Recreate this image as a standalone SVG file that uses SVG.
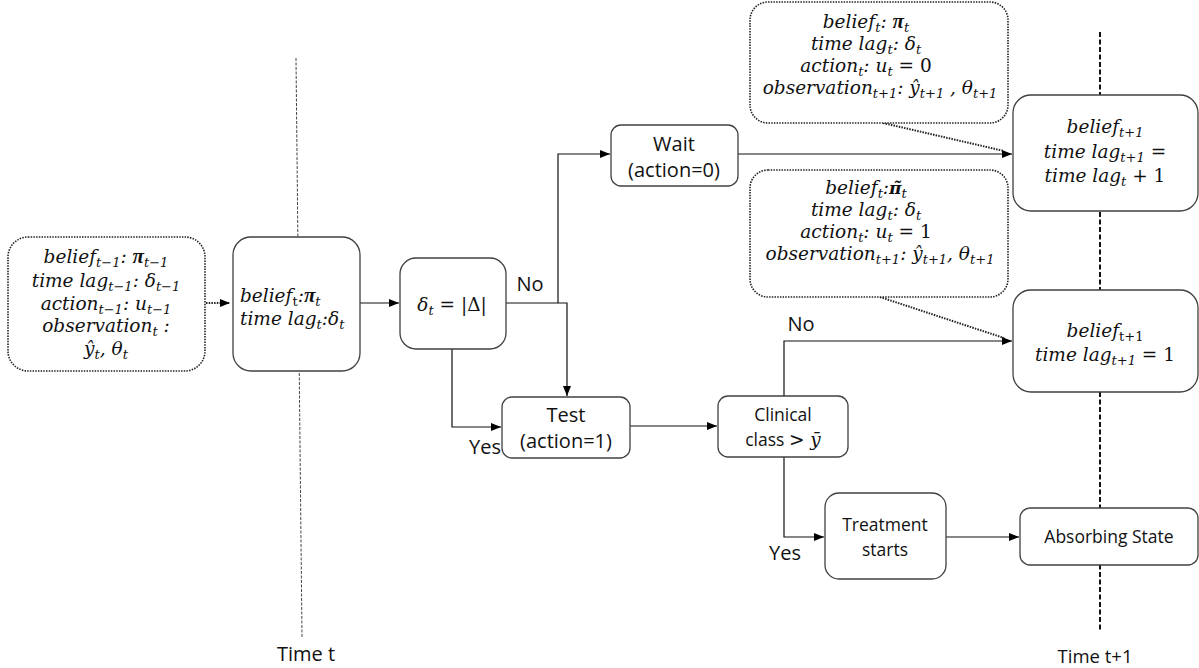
<svg xmlns="http://www.w3.org/2000/svg" width="1199" height="668" viewBox="0 0 1199 668">
  <defs>
    <marker id="arrow" markerUnits="userSpaceOnUse" markerWidth="11" markerHeight="9" refX="10" refY="4" orient="auto">
      <path d="M0,0 L10,4 L0,8 z" fill="#000"/>
    </marker>
    <style>
      .box { fill: #fff; stroke: #404040; stroke-width: 1.3; }
      .dbox { fill: #fff; stroke: #222; stroke-width: 1.6; stroke-dasharray: 1.5 1.2; }
      .conn { fill: none; stroke: #111; stroke-width: 1.2; }
      .dconn { fill: none; stroke: #222; stroke-width: 2; stroke-dasharray: 1.5 1.2; }
      .m { font-family: "DejaVu Serif", "Liberation Serif", serif; font-style: italic; font-size: 18.5px; fill: #111; }
      .s { font-size: 13px; }
      .b { font-family: "Liberation Serif", serif; font-weight: bold; font-size: 21px; }
      .bt { font-family: "DejaVu Serif", serif; font-weight: bold; font-size: 17px; }
      .u { font-style: normal; }
      .lbl { font-family: "Open Sans", "Liberation Sans", sans-serif; font-size: 20px; fill: #111; }
      .sm { font-size: 17.5px; }
      .time1 { fill: none; stroke: #444; stroke-width: 1; stroke-dasharray: 3 1.5; }
      .time2 { fill: none; stroke: #111; stroke-width: 2; stroke-dasharray: 5 2.5; }
    </style>
  </defs>

  <!-- time markers -->
  <g id="timelines">
    <path class="time1" d="M296,58 L302,637"/>
    <path class="time2" d="M1100,32 V632"/>
    <text class="lbl" x="306" y="661" text-anchor="middle">Time t</text>
    <text class="lbl" x="1095" y="663" text-anchor="middle" style="font-size:18.5px">Time t+1</text>
  </g>

  <!-- connectors -->
  <g id="connectors">
    <path class="dconn" d="M206,303 H230" marker-end="url(#arrow)"/>
    <path class="conn" d="M360,303 H399" marker-end="url(#arrow)"/>
    <path class="conn" d="M506,303 H567 V396" marker-end="url(#arrow)"/>
    <path class="conn" d="M558,303 V154 H610" marker-end="url(#arrow)"/>
    <path class="conn" d="M452,349 V427 H501" marker-end="url(#arrow)"/>
    <path class="conn" d="M738,154 H1012" marker-end="url(#arrow)"/>
    <path class="conn" d="M630,426 H717" marker-end="url(#arrow)"/>
    <path class="conn" d="M784,396 V341 H1012" marker-end="url(#arrow)"/>
    <path class="conn" d="M784,457 V537 H824" marker-end="url(#arrow)"/>
    <path class="conn" d="M946,537 H1019" marker-end="url(#arrow)"/>
    <path class="dconn" d="M883,123 L1004,151"/>
    <path class="dconn" d="M880,297 L1004,338"/>
    <text class="lbl" x="530" y="291" text-anchor="middle">No</text>
    <text class="lbl" x="485" y="454" text-anchor="middle">Yes</text>
    <text class="lbl" x="801" y="331" text-anchor="middle">No</text>
    <text class="lbl" x="785" y="560" text-anchor="middle">Yes</text>
  </g>

  <!-- previous step -->
  <g id="prev-state">
    <rect class="dbox" x="8" y="237" width="197" height="134" rx="20"/>
    <text class="m" x="106" y="263" text-anchor="middle">belief<tspan class="s" dy="4">t−1</tspan><tspan dy="-4">: </tspan><tspan class="b">π</tspan><tspan class="s" dy="4">t−1</tspan></text>
    <text class="m" x="106" y="287" text-anchor="middle">time lag<tspan class="s" dy="4">t−1</tspan><tspan dy="-4">: δ</tspan><tspan class="s" dy="4">t−1</tspan></text>
    <text class="m" x="106" y="310" text-anchor="middle">action<tspan class="s" dy="4">t−1</tspan><tspan dy="-4">:  u</tspan><tspan class="s" dy="4">t−1</tspan></text>
    <text class="m" x="106" y="332" text-anchor="middle">observation<tspan class="s" dy="4">t</tspan><tspan dy="-4"> :</tspan></text>
    <text class="m" x="106" y="355" text-anchor="middle">ŷ<tspan class="s" dy="4">t</tspan><tspan dy="-4">, θ</tspan><tspan class="s" dy="4">t</tspan></text>
  </g>

  <!-- current state -->
  <g id="state-t">
    <rect class="box" x="233" y="237" width="127" height="134" rx="18"/>
    <text class="m" x="240" y="302">belief<tspan class="s u" dy="4">t</tspan><tspan dy="-4">:</tspan><tspan class="b">π</tspan><tspan class="s" dy="4">t</tspan></text>
    <text class="m" x="240" y="325">time lag<tspan class="s" dy="4">t</tspan><tspan dy="-4">:δ</tspan><tspan class="s" dy="4">t</tspan></text>
  </g>

  <!-- decision on time lag -->
  <g id="lag-check">
    <rect class="box" x="400" y="258" width="106" height="91" rx="16"/>
    <text class="m" x="452" y="311" text-anchor="middle">δ<tspan class="s" dy="4">t</tspan><tspan class="u" dy="-4"> = |Δ|</tspan></text>
  </g>

  <!-- wait action -->
  <g id="wait">
    <rect class="box" x="611" y="125" width="127" height="61" rx="10"/>
    <text class="lbl" x="674" y="151" text-anchor="middle">Wait</text>
    <text class="lbl" x="674" y="177" text-anchor="middle">(action=0)</text>
  </g>

  <!-- test action -->
  <g id="test">
    <rect class="box" x="502" y="397" width="128" height="61" rx="10"/>
    <text class="lbl" x="566" y="422" text-anchor="middle">Test</text>
    <text class="lbl" x="566" y="448" text-anchor="middle">(action=1)</text>
  </g>

  <!-- clinical class decision -->
  <g id="clinical">
    <rect class="box" x="718" y="396" width="130" height="61" rx="10"/>
    <text class="lbl sm" x="783" y="421" text-anchor="middle">Clinical</text>
    <text class="lbl sm" x="783" y="446" text-anchor="middle">class <tspan class="m u">&gt; </tspan><tspan class="m">ȳ</tspan></text>
  </g>

  <!-- treatment -->
  <g id="treatment">
    <rect class="box" x="825" y="493" width="121" height="86" rx="14"/>
    <text class="lbl sm" x="885" y="531" text-anchor="middle">Treatment</text>
    <text class="lbl sm" x="885" y="556" text-anchor="middle">starts</text>
  </g>

  <!-- absorbing state -->
  <g id="absorbing">
    <rect class="box" x="1020" y="508" width="178" height="57" rx="10"/>
    <text class="lbl sm" x="1109" y="543" text-anchor="middle">Absorbing State</text>
  </g>

  <!-- wait transition info -->
  <g id="wait-info">
    <rect class="dbox" x="750" y="2" width="258" height="121" rx="18"/>
    <text class="m" x="866" y="28" text-anchor="middle">belief<tspan class="s" dy="4">t</tspan><tspan dy="-4">: </tspan><tspan class="b">π</tspan><tspan class="s" dy="4">t</tspan></text>
    <text class="m" x="866" y="50" text-anchor="middle">time lag<tspan class="s" dy="4">t</tspan><tspan dy="-4">: δ</tspan><tspan class="s" dy="4">t</tspan></text>
    <text class="m" x="866" y="72" text-anchor="middle">action<tspan class="s" dy="4">t</tspan><tspan dy="-4">: u</tspan><tspan class="s" dy="4">t</tspan><tspan class="u" dy="-4"> = 0</tspan></text>
    <text class="m" x="880" y="94" text-anchor="middle">observation<tspan class="s" dy="4">t+1</tspan><tspan dy="-4">: ŷ</tspan><tspan class="s" dy="4">t+1</tspan><tspan dy="-4"> , θ</tspan><tspan class="s" dy="4">t+1</tspan></text>
  </g>

  <!-- test transition info -->
  <g id="test-info">
    <rect class="dbox" x="750" y="170" width="258" height="127" rx="18"/>
    <text class="m" x="866" y="194" text-anchor="middle">belief<tspan class="s" dy="4">t</tspan><tspan dy="-4">:</tspan><tspan class="bt">π̃</tspan><tspan class="s" dy="4">t</tspan></text>
    <text class="m" x="866" y="216" text-anchor="middle">time lag<tspan class="s" dy="4">t</tspan><tspan dy="-4">: δ</tspan><tspan class="s" dy="4">t</tspan></text>
    <text class="m" x="866" y="238" text-anchor="middle">action<tspan class="s" dy="4">t</tspan><tspan dy="-4">: u</tspan><tspan class="s" dy="4">t</tspan><tspan class="u" dy="-4"> = 1</tspan></text>
    <text class="m" x="880" y="260" text-anchor="middle">observation<tspan class="s" dy="4">t+1</tspan><tspan dy="-4">: ŷ</tspan><tspan class="s" dy="4">t+1</tspan><tspan dy="-4">, θ</tspan><tspan class="s" dy="4">t+1</tspan></text>
  </g>

  <!-- next state after waiting -->
  <g id="state-wait">
    <rect class="box" x="1013" y="95" width="185" height="116" rx="18"/>
    <text class="m" x="1105" y="133" text-anchor="middle">belief<tspan class="s" dy="4">t+1</tspan></text>
    <text class="m" x="1105" y="158" text-anchor="middle">time lag<tspan class="s" dy="4">t+1</tspan><tspan class="u" dy="-4"> =</tspan></text>
    <text class="m" x="1105" y="182" text-anchor="middle">time lag<tspan class="s" dy="4">t</tspan><tspan class="u" dy="-4"> + 1</tspan></text>
  </g>

  <!-- next state after testing -->
  <g id="state-test">
    <rect class="box" x="1013" y="290" width="185" height="102" rx="18"/>
    <text class="m" x="1105" y="337" text-anchor="middle">belief<tspan class="s u" dy="4">t+1</tspan></text>
    <text class="m" x="1105" y="361" text-anchor="middle">time lag<tspan class="s" dy="4">t+1</tspan><tspan class="u" dy="-4"> = 1</tspan></text>
  </g>
</svg>
